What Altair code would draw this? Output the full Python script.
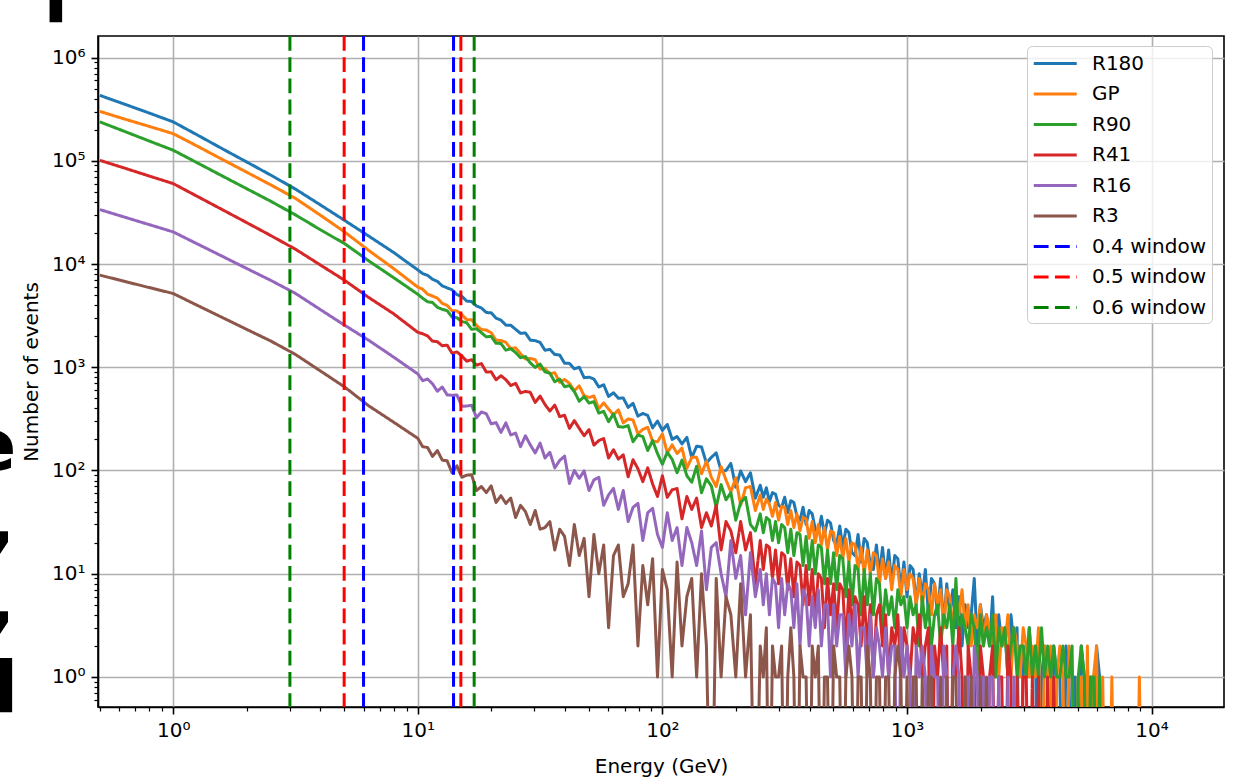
import altair as alt
import numpy as np
import pandas as pd

# ---------------------------------------------------------------------------
# Series and reference windows
# ---------------------------------------------------------------------------
SERIES = ["R180", "GP", "R90", "R41", "R16", "R3"]
SERIES_COLORS = ["#1f77b4", "#ff7f0e", "#2ca02c", "#d62728", "#9467bd", "#8c564b"]

WINDOWS = ["0.4 window", "0.5 window", "0.6 window"]
WINDOW_COLORS = ["#0000ff", "#ff0000", "#008000"]
WINDOW_LOW = [6, 5, 3]      # GeV
WINDOW_HIGH = [14, 15, 17]  # GeV

# Bin centres (log10 of energy in GeV): 0.1-decade steps up to 10 GeV,
# 0.02-decade steps up to 250 GeV, 0.0125-decade steps above.
LOG_E = np.concatenate([
    np.round(np.arange(-3, 10) * 0.1, 4),
    np.round(1.0 + np.arange(70) * 0.02, 4),
    np.round(2.4 + np.arange(126) * 0.0125, 4),
])
ENERGY = 10.0 ** LOG_E

# ---------------------------------------------------------------------------
# Photon counts per bin
# ---------------------------------------------------------------------------
R180_LOW = [430000, 354000, 291000, 238000, 177000, 131000, 97500, 72400,
            53100, 37600, 26500, 18600, 13000]
R180_MID = [8760, 8070, 7770, 7120, 6790, 6140, 5870, 5630, 5050, 4870,
            4370, 4330, 3920, 3750, 3390, 3370, 2990, 2860, 2560, 2550,
            2330, 2130, 2150, 1830, 1810, 1740, 1460, 1490, 1330, 1315,
            1095, 1090, 965, 1000, 792, 802, 769, 644, 677, 521,
            566, 501, 504, 409, 447, 336, 357, 341, 259, 301,
            245, 279, 200, 213, 181, 209, 133, 172, 169, 118,
            134, 148, 99, 100, 117, 69, 99, 78, 95, 54]
R180_TAIL = [72, 55, 68, 50, 61, 59, 46, 44, 55, 39, 51, 49, 36, 33, 44, 30,
             41, 38, 27, 25, 36, 24, 33, 31, 21, 19, 29, 18, 27, 25, 16, 15,
             24, 13, 22, 20, 12, 11, 19, 10, 18,
             9, 17, 8, 15, 14, 7, 13, 6, 12, 11, 5, 10, 6, 11, 4, 9, 8, 4, 9,
             3, 8, 4, 7, 3,
             6, 2, 5, 3, 4, 9, 2, 5, 3, 4, 2, 6, 1, 4, 2, 3, 1, 4, 2, 3, 0, 2,
             1, 3,
             1, 2, 0, 1, 2, 1, 0, 2, 1, 1, 0, 2, 1, 0, 1, 0, 2, 1, 0, 1, 0, 2,
             1, 0]

GP_LOW = [301000, 254000, 216000, 183000, 138000, 103300, 77600, 58200,
          43200, 29900, 20500, 13500, 9080]
GP_MID = [5970, 5700, 5110, 4900, 4670, 4150, 3970, 3530, 3510, 3240,
          2890, 2880, 2540, 2320, 2290, 2160, 1825, 1818, 1742, 1517,
          1542, 1351, 1201, 1217, 1183, 959, 972, 866, 886, 715,
          762, 698, 594, 659, 530, 510, 527, 395, 452, 394,
          344, 387, 289, 316, 308, 227, 250, 262, 192, 190,
          226, 148, 177, 146, 165, 105, 134, 134, 93, 123,
          86, 70, 109, 81, 62, 85, 46, 68, 70, 41]
GP_TAIL = [58, 42, 53, 47, 36, 49, 33, 45, 44, 30, 41, 28, 38, 26, 35, 34,
           22, 32, 20, 30, 19, 28, 17, 26, 25, 15, 23, 14, 22, 13, 20, 19,
           11, 18, 10, 17, 10, 16, 15, 8, 14,
           9, 13, 7, 12, 11, 6, 11, 7, 10, 9, 5, 9, 5, 8, 7, 4, 8, 5, 7, 3,
           7, 6, 3, 6,
           4, 7, 3, 5, 2, 4, 3, 5, 2, 4, 3, 2, 4, 1, 3, 2, 4, 1, 3, 2, 1, 3,
           2, 1,
           2, 1, 3, 0, 2, 1, 2, 0, 1, 2, 1, 0, 2, 1, 0, 1, 1, 0, 2, 0, 1, 2,
           0, 1,
           0, 0, 1, 0, 0, 0, 0, 0, 0, 0, 0, 1, 0]

R90_LOW = [238000, 193000, 156000, 126500, 95100, 71400, 53700, 40400,
           29900, 21600, 15800, 10700, 7410]
R90_MID = [5090, 4660, 4310, 4240, 3810, 3640, 3530, 3070, 3020, 2770,
           2700, 2330, 2360, 2160, 1970, 1990, 1706, 1700, 1464, 1514,
           1388, 1237, 1270, 1101, 996, 1074, 903, 876, 723, 767,
           647, 664, 582, 469, 519, 450, 464, 360, 374, 297,
           353, 266, 263, 272, 190, 221, 213, 156, 195, 146,
           115, 150, 128, 95, 126, 89, 77, 110, 61, 83,
           71, 44, 73, 52, 61, 33, 49, 55, 30, 26]
R90_TAIL = [38, 25, 35, 33, 21, 32, 20, 30, 28, 16, 27, 15, 25, 24, 12, 23,
            11, 21, 10, 19, 18, 8, 17, 8, 16, 7, 15, 14, 6, 13, 5, 12, 11, 4,
            11, 5, 10, 4, 9, 8, 3,
            7, 4, 6, 3, 7, 5, 6, 3, 6, 4, 5, 2, 6, 3, 5, 2, 4, 5, 2, 4, 3, 5,
            2, 9,
            2, 4, 3, 2, 4, 3, 1, 4, 2, 3, 2, 4, 1, 3, 2, 3, 1, 2, 3, 1, 2, 2,
            1, 3,
            1, 2, 1, 3, 1, 2, 1, 2, 1, 1, 2, 1, 1, 2, 0, 1, 2, 1, 0, 1, 1, 0,
            1, 0]

R41_LOW = [101000, 85100, 71400, 60100, 45000, 33700, 25200, 18800,
           13900, 9840, 6970, 4730, 3310]
R41_MID = [2180, 2110, 2010, 1792, 1765, 1615, 1637, 1369, 1408, 1291,
           1145, 1184, 1049, 1085, 900, 903, 756, 828, 758, 665,
           698, 564, 584, 571, 456, 526, 435, 377, 430, 333,
           343, 256, 304, 256, 217, 249, 176, 195, 204, 132,
           159, 129, 142, 87, 127, 104, 78, 106, 74, 56,
           89, 55, 65, 67, 34, 56, 42, 54, 28, 39,
           29, 46, 17, 32, 26, 16, 32, 17, 25, 8]
R41_TAIL = [21, 11, 19, 18, 9, 17, 8, 16, 15, 7, 14, 6, 13, 12, 5, 12, 5, 11,
            4, 10, 9, 3, 9, 4, 8, 3, 8, 7, 2, 7, 3, 6, 5, 2, 6, 2, 5, 1, 4,
            5, 2,
            4, 1, 3, 2, 4, 1, 3, 2, 1, 3, 2, 4, 1, 2, 3, 0, 2, 1, 3, 1, 2, 0,
            2, 1,
            3, 1, 0, 2, 1, 1, 0, 2, 1, 0, 1, 2, 0, 1, 1, 0, 2, 1, 0, 1, 0, 1,
            1, 0,
            1, 0, 1, 0, 0, 1, 0, 1, 0]

R16_LOW = [33650, 28500, 24150, 20460, 15600, 11900, 9060, 6920,
           5190, 3640, 2560, 1820, 1260]
R16_MID = [862, 741, 769, 692, 586, 644, 540, 536, 538, 419,
           421, 429, 324, 369, 355, 283, 291, 234, 289, 221,
           230, 170, 217, 177, 148, 184, 132, 150, 106, 125,
           138, 75, 100, 84, 99, 64, 81, 86, 46, 58,
           67, 42, 64, 32, 44, 48, 21, 39, 43, 24,
           18, 39, 21, 28, 12, 28, 20, 12, 26, 7,
           18, 20, 10, 6, 21, 9, 15, 4, 16, 6]
R16_TAIL = [11, 5, 10, 4, 9, 8, 3, 9, 4, 8, 7, 3, 8, 2, 7, 6, 2, 6, 3, 7, 2,
            5, 5, 1, 5, 2, 4, 4, 1, 4, 2, 5, 1, 3, 3, 1, 4, 1, 3, 2, 1,
            3, 1, 2, 2, 0, 3, 1, 2, 1, 0, 2, 1, 2, 1, 0, 2, 1, 1, 0, 2, 1, 0,
            1, 2,
            1, 0, 1, 1, 0, 2, 1, 0, 1, 0, 1, 1, 0, 1, 0, 0, 1, 0, 1, 0]

R3_LOW = [7800, 6800, 5930, 5180, 3960, 3040, 2330, 1790,
          1330, 927, 646, 422, 295]
R3_MID = [205, 170, 167, 137, 156, 126, 124, 95, 111, 86,
          90, 91, 64, 70, 61, 71, 49, 57, 48, 54,
          35, 46, 40, 30, 41, 27, 28, 32, 17, 27,
          23, 12, 30, 15, 22, 6, 24, 10, 19, 3,
          15, 19, 6, 8, 19, 2, 12, 5, 14, 1,
          11, 7, 1, 13, 2, 6, 9, 1, 10, 2,
          0, 9, 1, 6, 4, 1, 8, 1, 4, 0]
R3_TAIL = [2, 1, 3, 0, 2, 1, 1, 2, 0, 1, 3, 1, 0, 2, 1, 1, 0, 2, 1, 2,
           0, 1, 1, 0, 2, 1, 1, 0, 1, 2, 1, 0, 1, 1, 0, 2, 1, 0, 1, 1, 0,
           1, 1, 0, 1, 2, 1, 0, 1, 0, 1, 1, 0, 1, 0, 1, 1, 0, 0, 1, 0,
           1, 0, 1, 1, 0, 0, 1, 0, 1, 0, 0, 1, 0, 1, 0]

COUNTS = {
    "R180": R180_LOW + R180_MID + R180_TAIL,
    "GP": GP_LOW + GP_MID + GP_TAIL,
    "R90": R90_LOW + R90_MID + R90_TAIL,
    "R41": R41_LOW + R41_MID + R41_TAIL,
    "R16": R16_LOW + R16_MID + R16_TAIL,
    "R3": R3_LOW + R3_MID + R3_TAIL,
}

# Empty bins sit far below the axis floor, like a clipped log axis.
EMPTY_BIN = 0.01

rows = []
for name in SERIES:
    counts = COUNTS[name]
    for e, c in zip(ENERGY[:len(counts)], counts):
        rows.append({"name": name, "energy": float(e), "count": c,
                     "shown": c if c > 0 else EMPTY_BIN})
hist = pd.DataFrame(rows)

edges = pd.DataFrame(
    [{"name": w, "energy": lo} for w, lo in zip(WINDOWS, WINDOW_LOW)]
    + [{"name": w, "energy": hi} for w, hi in zip(WINDOWS, WINDOW_HIGH)]
)

# ---------------------------------------------------------------------------
# Scales, axes and the shared legend
# ---------------------------------------------------------------------------
FONT = "DejaVu Sans"
NAMES = SERIES + WINDOWS

x_scale = alt.Scale(type="log", domain=[0.4927, 19770], nice=False)
y_scale = alt.Scale(type="log", domain=[0.512, 1.616e6], nice=False)

X_TICKS = [m * 10.0 ** k for k in range(-1, 5) for m in range(1, 10)
           if 0.4927 <= m * 10.0 ** k <= 19770]
Y_TICKS = [m * 10.0 ** k for k in range(-1, 7) for m in range(1, 10)
           if 0.512 <= m * 10.0 ** k <= 1.616e6]

MAJOR = "abs(log(datum.value) / LN10 - round(log(datum.value) / LN10)) < 0.001"
SUPERSCRIPTS = "['\u2070', '\u00b9', '\u00b2', '\u00b3', '\u2074', '\u2075', '\u2076']"
LABEL = f"{MAJOR} ? '10' + {SUPERSCRIPTS}[round(log(datum.value) / LN10)] : ''"


def log_axis(title, ticks, **extra):
    return alt.Axis(
        title=title,
        values=ticks,
        labelExpr=LABEL,
        labelOverlap=False,
        labelFlush=False,
        tickSize={"condition": {"test": MAJOR, "value": 7}, "value": 4},
        tickWidth={"condition": {"test": MAJOR, "value": 1.6}, "value": 1.2},
        gridOpacity={"condition": {"test": MAJOR, "value": 1}, "value": 0},
        **extra,
    )


x_enc = alt.X("energy:Q", scale=x_scale,
              axis=log_axis("Energy (GeV)", X_TICKS, titlePadding=16))
y_enc = alt.Y("shown:Q", scale=y_scale,
              axis=log_axis("Number of events", Y_TICKS, titlePadding=10))

# Legend handle: a horizontal stroke drawn to the right of the symbol anchor,
# so a compact symbol size still gives a long line sample.
HANDLE = "M -1 0 L 3 0"

legend = alt.Legend(
    title=None,
    orient="none",
    legendX=929,
    legendY=10,
    symbolType=HANDLE,
    symbolSize=462,
    labelFont=FONT,
    labelFontSize=20,
    labelColor="black",
    labelOffset=35,
    rowPadding=7.5,
    padding=5,
    fillColor="rgba(255,255,255,0.8)",
    strokeColor="#cccccc",
    cornerRadius=5,
)
color_enc = alt.Color("name:N", legend=legend,
                      scale=alt.Scale(domain=NAMES, range=SERIES_COLORS + WINDOW_COLORS))
dash_enc = alt.StrokeDash("name:N", legend=legend,
                          scale=alt.Scale(domain=NAMES,
                                          range=[[1, 0]] * 6 + [[14.8, 6.4]] * 3))
width_enc = alt.StrokeWidth("name:N", legend=legend,
                            scale=alt.Scale(domain=NAMES, range=[3] * 6 + [4] * 3))

# One layer per series keeps the drawing order R180 -> R3, windows on top.
layers = []
for name in SERIES:
    layers.append(
        alt.Chart(hist)
        .transform_filter(alt.datum.name == name)
        .mark_line(clip=True, strokeJoin="round")
        .encode(x=x_enc, y=y_enc, color=color_enc, strokeDash=dash_enc,
                strokeWidth=width_enc)
    )

layers.append(
    alt.Chart(edges)
    .mark_rule(clip=True)
    .encode(x=x_enc, color=color_enc, strokeDash=dash_enc, strokeWidth=width_enc)
)

# Slide text cut off at the left page edge (x, y relative to the plot corner).
SLIDE_GLYPHS = [("l", -54.5, -14), ("e", -130.6, 434), (",", -110, 509),
                (",", -110, 589), ("l", -104.5, 676)]
for glyph, gx, gy in SLIDE_GLYPHS:
    layers.append(
        alt.Chart(pd.DataFrame({"t": [glyph]}))
        .mark_text(font=FONT, fontSize=72, fontWeight="bold", color="black",
                   align="left", baseline="alphabetic")
        .encode(text="t:N", x=alt.value(gx), y=alt.value(gy))
    )

chart = (
    alt.layer(*layers)
    .properties(
        width=1126,
        height=671,
        title=alt.TitleParams("Photon counts distributions - PRELIMINARY",
                              anchor="middle", offset=7),
        autosize=alt.AutoSizeParams(type="none"),
        padding={"left": 98, "top": 36, "right": 14, "bottom": 71},
        background="white",
    )
    .configure_view(stroke="black", strokeWidth=1.6)
    .configure_axis(
        labelFont=FONT, labelFontSize=20, labelColor="black", labelPadding=6,
        titleFont=FONT, titleFontSize=20, titleFontWeight="normal",
        titleColor="black", tickColor="black", domainColor="black",
        domainWidth=1.6, gridColor="#b0b0b0", gridWidth=1.6,
    )
    .configure_title(font=FONT, fontSize=24, fontWeight="normal", color="black")
)

chart.save("out.html", embed_options={"renderer": "svg", "actions": False})
